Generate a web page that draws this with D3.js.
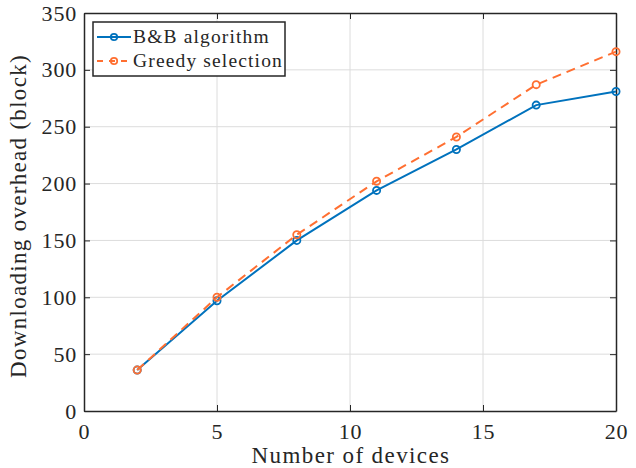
<!DOCTYPE html>
<html lang="en">

<head>
    <meta charset="UTF-8">
    <title>Downloading overhead</title>
    <style>
        html,
        body {
            margin: 0;
            background: #fff;
        }

        svg text {
            font-family: "Liberation Serif", "DejaVu Serif", serif;
            fill: #262626;
        }

        .grid line {
            stroke: #dcdcdc;
            stroke-width: 1px;
        }

        .axis path,
        .axis line {
            stroke: #262626;
        }
    </style>
</head>

<body>
    <div class="chart"></div>

    <script src="https://d3js.org/d3.v7.min.js"></script>
    <script>
        // values
        var devices = [2, 5, 8, 11, 14, 17, 20];
        var bnb = [36, 97, 150, 194, 230, 269, 281];
        var greedy = [36, 100, 155, 202, 241, 287, 316];
        var xTicks = [0, 5, 10, 15, 20];
        var yTicks = [0, 50, 100, 150, 200, 250, 300, 350];
        var seriesNames = ['B&B algorithm', 'Greedy selection'];

        var W = 636, H = 468;
        var margin = { top: 13, right: 20, bottom: 57, left: 84 },
            width = W - margin.left - margin.right,
            height = H - margin.top - margin.bottom;

        var svg = d3.select('.chart')
            .append('svg')
            .attr('width', W)
            .attr('height', H)
            .append('g')
            .attr('transform', `translate(${margin.left}, ${margin.top})`);

        var xScale = d3.scaleLinear().domain([0, 20]).range([0, width]);
        var yScale = d3.scaleLinear().domain([0, 350]).range([height, 0]);

        // grid
        svg.append('g').attr('class', 'grid')
            .selectAll('line').data(xTicks.slice(1, -1)).enter().append('line')
            .attr('x1', d => xScale(d)).attr('x2', d => xScale(d))
            .attr('y1', 0).attr('y2', height);
        svg.append('g').attr('class', 'grid')
            .selectAll('line').data(yTicks.slice(1, -1)).enter().append('line')
            .attr('y1', d => yScale(d)).attr('y2', d => yScale(d))
            .attr('x1', 0).attr('x2', width);

        // axes, ticks pointing inward like matlab
        var tickLen = 6;
        var xAxis = d3.axisBottom(xScale).tickValues(xTicks).tickSizeInner(-tickLen).tickSizeOuter(0).tickPadding(12);
        var yAxis = d3.axisLeft(yScale).tickValues(yTicks).tickSizeInner(-tickLen).tickSizeOuter(0).tickPadding(7);

        svg.append('g').attr('class', 'axis')
            .attr('transform', `translate(0, ${height})`).call(xAxis);
        svg.append('g').attr('class', 'axis').call(yAxis);
        svg.append('g').attr('class', 'axis')
            .call(d3.axisTop(xScale).tickValues(xTicks).tickSizeInner(-tickLen).tickSizeOuter(0).tickFormat(''));
        svg.append('g').attr('class', 'axis')
            .attr('transform', `translate(${width}, 0)`)
            .call(d3.axisRight(yScale).tickValues(yTicks).tickSizeInner(-tickLen).tickSizeOuter(0).tickFormat(''));

        svg.selectAll('.axis path').attr('stroke-width', 1.5);
        svg.selectAll('.axis line').attr('stroke-width', 1);
        svg.selectAll('.axis text')
            .style('font-size', '22px')
            .style('letter-spacing', '0.8px')
            .attr('fill', '#262626');

        // axis labels
        svg.append('text')
            .attr('x', width / 2 + 1)
            .attr('y', height + 52)
            .attr('text-anchor', 'middle')
            .style('font-size', '23px')
            .style('letter-spacing', '1.4px')
            .text('Number of devices');

        svg.append('text')
            .attr('transform', `translate(${-58}, ${height / 2 + 4}) rotate(-90)`)
            .attr('text-anchor', 'middle')
            .style('font-size', '23px')
            .style('letter-spacing', '1.3px')
            .text('Downloading overhead (block)');

        // series
        var series = [
            { name: seriesNames[0], values: bnb, color: '#0072bd', dash: null },
            { name: seriesNames[1], values: greedy, color: '#ff6f31', dash: '9,6' }
        ];

        var line = d3.line()
            .x((d, i) => xScale(devices[i]))
            .y(d => yScale(d));

        series.forEach(function (s) {
            svg.append('path')
                .attr('d', line(s.values))
                .attr('fill', 'none')
                .attr('stroke', s.color)
                .attr('stroke-width', 2)
                .attr('stroke-dasharray', s.dash);

            svg.append('g').selectAll('circle')
                .data(s.values).enter().append('circle')
                .attr('cx', (d, i) => xScale(devices[i]))
                .attr('cy', d => yScale(d))
                .attr('r', 3.6)
                .attr('fill', 'none')
                .attr('stroke', s.color)
                .attr('stroke-width', 1.8);
        });

        // legend
        var legend = svg.append('g').attr('transform', 'translate(9, 9)');
        legend.append('rect')
            .attr('width', 192)
            .attr('height', 54)
            .attr('fill', '#fff')
            .attr('stroke', '#262626')
            .attr('stroke-width', 1.5);

        series.forEach(function (s, i) {
            var row = legend.append('g').attr('transform', `translate(0, ${15 + i * 24})`);
            row.append('line')
                .attr('x1', 4).attr('x2', 38)
                .attr('stroke', s.color)
                .attr('stroke-width', 2)
                .attr('stroke-dasharray', s.dash ? '6,6' : null);
            row.append('circle')
                .attr('cx', 21).attr('r', 3.2)
                .attr('fill', 'none')
                .attr('stroke', s.color)
                .attr('stroke-width', 1.8);
            row.append('text')
                .attr('x', 40)
                .attr('dy', '0.32em')
                .style('font-size', '19.5px')
                .style('letter-spacing', '1.15px')
                .text(s.name);
        });
    </script>
</body>

</html>
